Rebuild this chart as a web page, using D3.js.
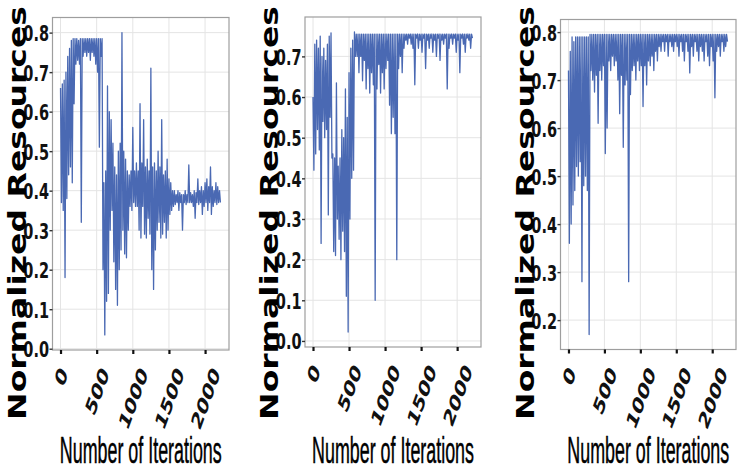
<!DOCTYPE html>
<html>
<head>
<meta charset="utf-8">
<script src="https://cdn.jsdelivr.net/npm/d3@7"></script>
<style>
  body { margin: 0; background: #fff; }
  svg { display: block; }
</style>
</head>
<body>
<svg id="chart" width="742" height="474"></svg>
<script>
// Iterations are read in bins of 25; each bin keeps the highest and lowest value seen in it
const ITER_STEP = 25;
const ITER_END = 2220;
const binStarts = d3.range(0, 2201, ITER_STEP);

const xTicks = [0, 500, 1000, 1500, 2000];
const p1YTicks = [0.0, 0.1, 0.2, 0.3, 0.4, 0.5, 0.6, 0.7, 0.8];
const p2YTicks = [0.0, 0.1, 0.2, 0.3, 0.4, 0.5, 0.6, 0.7];
const p3YTicks = [0.2, 0.3, 0.4, 0.5, 0.6, 0.7, 0.8];

const xLabel = "Number of Iterations";
const yLabel = "Normalized Resources";

const p1Hi = [0.66, 0.67, 0.68, 0.70, 0.74, 0.76, 0.78, 0.785, 0.785, 0.785,
  0.78, 0.785, 0.785, 0.785, 0.785, 0.785, 0.785, 0.785, 0.785, 0.785,
  0.785, 0.785, 0.785, 0.785, 0.42, 0.45, 0.665, 0.60, 0.58, 0.52,
  0.46, 0.44, 0.50, 0.52, 0.80, 0.50, 0.48, 0.45, 0.44, 0.45,
  0.56, 0.45, 0.47, 0.45, 0.62, 0.47, 0.58, 0.46, 0.48, 0.45,
  0.71, 0.46, 0.47, 0.45, 0.50, 0.46, 0.58, 0.44, 0.45, 0.48,
  0.43, 0.42, 0.40, 0.40, 0.39, 0.40, 0.395, 0.39, 0.39, 0.40,
  0.39, 0.465, 0.395, 0.39, 0.40, 0.395, 0.43, 0.40, 0.41, 0.40,
  0.42, 0.43, 0.41, 0.46, 0.41, 0.40, 0.42, 0.41, 0.40];
const p1Lo = [0.37, 0.35, 0.18, 0.38, 0.44, 0.46, 0.42, 0.62, 0.72, 0.73,
  0.72, 0.32, 0.74, 0.75, 0.74, 0.75, 0.73, 0.75, 0.74, 0.72,
  0.70, 0.51, 0.74, 0.20, 0.035, 0.12, 0.14, 0.30, 0.35, 0.22,
  0.15, 0.11, 0.20, 0.25, 0.30, 0.24, 0.23, 0.30, 0.36, 0.35,
  0.37, 0.36, 0.36, 0.30, 0.28, 0.36, 0.29, 0.28, 0.33, 0.29,
  0.20, 0.15, 0.25, 0.30, 0.32, 0.28, 0.29, 0.32, 0.28, 0.30,
  0.34, 0.35, 0.36, 0.365, 0.37, 0.35, 0.37, 0.30, 0.37, 0.365,
  0.37, 0.37, 0.37, 0.36, 0.33, 0.37, 0.365, 0.37, 0.34, 0.36,
  0.37, 0.35, 0.37, 0.34, 0.36, 0.37, 0.365, 0.37, 0.37];

const p2Hi = [0.60, 0.73, 0.74, 0.72, 0.75, 0.70, 0.72, 0.69, 0.73, 0.75,
  0.758, 0.46, 0.45, 0.635, 0.43, 0.45, 0.52, 0.50, 0.62, 0.55,
  0.66, 0.72, 0.74, 0.76, 0.755, 0.755, 0.755, 0.755, 0.755, 0.755,
  0.755, 0.755, 0.755, 0.755, 0.755, 0.755, 0.755, 0.755, 0.755, 0.755,
  0.755, 0.755, 0.755, 0.755, 0.755, 0.755, 0.755, 0.755, 0.755, 0.755,
  0.755, 0.755, 0.755, 0.755, 0.755, 0.755, 0.755, 0.755, 0.755, 0.755,
  0.755, 0.755, 0.755, 0.755, 0.755, 0.755, 0.755, 0.755, 0.755, 0.755,
  0.755, 0.755, 0.755, 0.755, 0.755, 0.755, 0.755, 0.755, 0.755, 0.755,
  0.755, 0.755, 0.755, 0.755, 0.755, 0.755, 0.755, 0.755, 0.755];
const p2Lo = [0.42, 0.46, 0.52, 0.47, 0.24, 0.54, 0.50, 0.52, 0.31, 0.55,
  0.45, 0.22, 0.21, 0.30, 0.25, 0.20, 0.27, 0.22, 0.11, 0.022,
  0.30, 0.40, 0.42, 0.70, 0.70, 0.66, 0.70, 0.64, 0.69, 0.62,
  0.67, 0.61, 0.66, 0.63, 0.10, 0.62, 0.68, 0.61, 0.66, 0.62,
  0.67, 0.69, 0.58, 0.51, 0.55, 0.51, 0.20, 0.67, 0.70, 0.66,
  0.72, 0.74, 0.73, 0.745, 0.73, 0.72, 0.63, 0.745, 0.72, 0.74,
  0.71, 0.745, 0.67, 0.74, 0.72, 0.745, 0.71, 0.74, 0.70, 0.745,
  0.69, 0.74, 0.73, 0.745, 0.62, 0.72, 0.745, 0.73, 0.745, 0.71,
  0.74, 0.66, 0.745, 0.73, 0.71, 0.745, 0.74, 0.72, 0.745];

const p3Hi = [0.72, 0.76, 0.79, 0.78, 0.79, 0.79, 0.79, 0.79, 0.79, 0.79,
  0.79, 0.79, 0.795, 0.795, 0.795, 0.795, 0.795, 0.795, 0.795, 0.795,
  0.795, 0.795, 0.795, 0.795, 0.795, 0.795, 0.795, 0.795, 0.795, 0.795,
  0.795, 0.795, 0.795, 0.795, 0.795, 0.795, 0.795, 0.795, 0.795, 0.795,
  0.795, 0.795, 0.795, 0.795, 0.795, 0.795, 0.795, 0.795, 0.795, 0.795,
  0.795, 0.795, 0.795, 0.795, 0.795, 0.795, 0.795, 0.795, 0.795, 0.795,
  0.795, 0.795, 0.795, 0.795, 0.795, 0.795, 0.795, 0.795, 0.795, 0.795,
  0.795, 0.795, 0.795, 0.795, 0.795, 0.795, 0.795, 0.795, 0.795, 0.795,
  0.795, 0.795, 0.795, 0.795, 0.795, 0.795, 0.795, 0.795, 0.795];
const p3Lo = [0.36, 0.40, 0.44, 0.47, 0.52, 0.50, 0.53, 0.28, 0.48, 0.50,
  0.47, 0.17, 0.72, 0.70, 0.675, 0.71, 0.61, 0.72, 0.70, 0.73,
  0.547, 0.60, 0.74, 0.72, 0.75, 0.73, 0.74, 0.70, 0.63, 0.71,
  0.56, 0.69, 0.70, 0.28, 0.67, 0.72, 0.73, 0.70, 0.74, 0.72,
  0.73, 0.645, 0.73, 0.69, 0.74, 0.73, 0.75, 0.72, 0.76, 0.74,
  0.77, 0.76, 0.78, 0.76, 0.78, 0.75, 0.78, 0.77, 0.76, 0.78,
  0.77, 0.75, 0.78, 0.76, 0.74, 0.78, 0.76, 0.715, 0.77, 0.75,
  0.78, 0.76, 0.74, 0.77, 0.76, 0.74, 0.78, 0.75, 0.73, 0.77,
  0.74, 0.663, 0.76, 0.77, 0.75, 0.78, 0.76, 0.77, 0.78];

// The picture is squashed sideways, so text gets a horizontal scale
const SQ = 0.63;
const LINE_COLOR = "#4a69b3";
const BOLD_FONT = "'DejaVu Sans', sans-serif";
const XT_SIZE = 24;
const XT_ANGLE = -60 * Math.PI / 180;

const svg = d3.select("#chart");

const panels = [
  {hi: p1Hi, lo: p1Lo, yTicks: p1YTicks, l: 52.5, r: 229, t: 17.5, b: 350},
  {hi: p2Hi, lo: p2Lo, yTicks: p2YTicks, l: 305, r: 481, t: 17, b: 347},
  {hi: p3Hi, lo: p3Lo, yTicks: p3YTicks, l: 560.5, r: 736, t: 19.5, b: 349.5}
];

panels.forEach(DrawPanel);

// rotate first, then squash sideways
function tickMatrix(px, py) {
  const cs = Math.cos(XT_ANGLE), sn = Math.sin(XT_ANGLE);
  return [SQ * (px * cs - py * sn), px * sn + py * cs];
}

function DrawPanel(p) {
  const g = svg.append("g");

  // matplotlib style 5% margins round the data
  const yMin = Math.min(d3.min(p.lo), d3.min(p.hi));
  const yMax = Math.max(d3.max(p.lo), d3.max(p.hi));
  const yPad = (yMax - yMin) * 0.05;
  const x = d3.scaleLinear().domain([-ITER_END * 0.05, ITER_END * 1.05]).range([p.l, p.r]);
  const y = d3.scaleLinear().domain([yMin - yPad, yMax + yPad]).range([p.b, p.t]);

  // grid
  g.selectAll(".gx").data(xTicks).join("line")
    .attr("x1", d => x(d)).attr("x2", d => x(d))
    .attr("y1", p.t).attr("y2", p.b)
    .attr("stroke", "#e4e4e4").attr("stroke-width", 1);
  g.selectAll(".gy").data(p.yTicks).join("line")
    .attr("x1", p.l).attr("x2", p.r)
    .attr("y1", d => y(d)).attr("y2", d => y(d))
    .attr("stroke", "#e4e4e4").attr("stroke-width", 1);

  // zig-zag through each bin's max then min
  const pts = [];
  binStarts.forEach((s, i) => {
    pts.push([s, p.hi[i]]);
    pts.push([s + ITER_STEP / 2, p.lo[i]]);
  });
  g.append("path").datum(pts)
    .attr("d", d3.line().x(d => x(d[0])).y(d => y(d[1])))
    .attr("fill", "none")
    .attr("stroke", LINE_COLOR)
    .attr("stroke-width", 1.3)
    .attr("stroke-linejoin", "round");

  // frame
  g.append("rect")
    .attr("x", p.l).attr("y", p.t)
    .attr("width", p.r - p.l).attr("height", p.b - p.t)
    .attr("fill", "none").attr("stroke", "#9e9e9e").attr("stroke-width", 1.2);

  // y axis
  const yAxis = g.append("g").attr("transform", `translate(${p.l},0)`)
    .call(d3.axisLeft(y).tickValues(p.yTicks).tickFormat(d3.format(".1f")).tickSize(3));
  yAxis.select(".domain").remove();
  yAxis.selectAll("line").attr("stroke", "#333").attr("stroke-width", 1.4);
  yAxis.selectAll("text")
    .attr("x", null).attr("dy", "0.36em")
    .attr("transform", `translate(-3.5,0) scale(0.66,1)`)
    .attr("font-family", BOLD_FONT).attr("font-weight", "bold")
    .attr("font-size", 22).attr("fill", "#111");

  // x axis
  const xAxis = g.append("g").attr("transform", `translate(0,${p.b})`)
    .call(d3.axisBottom(x).tickValues(xTicks).tickFormat(d3.format("d")).tickSize(4));
  xAxis.select(".domain").remove();
  xAxis.selectAll("line").attr("stroke", "#111").attr("stroke-width", 2.2);
  xAxis.selectAll("text")
    .attr("y", null).attr("dy", null)
    .attr("text-anchor", "end")
    .attr("font-family", BOLD_FONT).attr("font-weight", "bold")
    .attr("font-size", XT_SIZE).attr("fill", "#111")
    .each(function () {
      // centre the ink box of the turned label under its tick
      const w = this.getComputedTextLength();
      const c = 0.73 * XT_SIZE;
      const corners = [[-w, 0], [0, 0], [-w, -c], [0, -c]].map(([px, py]) => tickMatrix(px, py));
      const minX = d3.min(corners, d => d[0]), maxX = d3.max(corners, d => d[0]);
      const minY = d3.min(corners, d => d[1]);
      const e = -(minX + maxX) / 2;
      const f = 15 - minY;
      const [a, b] = tickMatrix(1, 0);
      const [cc, dd] = tickMatrix(0, 1);
      d3.select(this).attr("transform", `matrix(${a},${b},${cc},${dd},${e},${f})`);
    });

  // axis titles
  const xt = g.append("text")
    .attr("text-anchor", "middle")
    .attr("font-family", "'Liberation Sans', Arial, sans-serif")
    .attr("font-size", 37).attr("fill", "#000")
    .attr("stroke", "#000").attr("stroke-width", 0.5)
    .text(xLabel);
  const xs = 162 / xt.node().getComputedTextLength();
  xt.attr("transform", `translate(${(p.l + p.r) / 2},463) scale(${xs},1)`);

  g.append("text")
    .attr("text-anchor", "middle")
    .attr("font-family", BOLD_FONT).attr("font-weight", "bold")
    .attr("font-size", 33).attr("fill", "#000")
    .attr("transform", `translate(${p.l - 27},213) scale(0.75,1) rotate(-90)`)
    .text(yLabel);
}
</script>
</body>
</html>
